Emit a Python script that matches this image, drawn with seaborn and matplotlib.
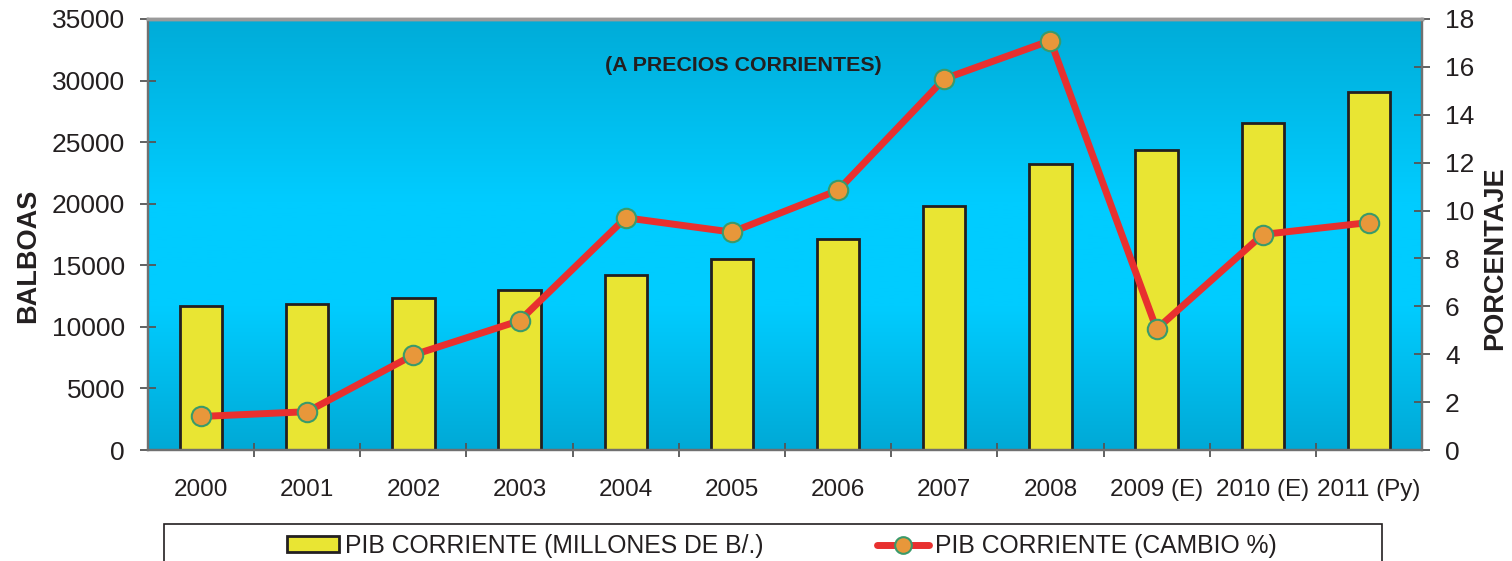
import numpy as np
import matplotlib
matplotlib.use("Agg")
import matplotlib.pyplot as plt
import seaborn as sns
from matplotlib.colors import LinearSegmentedColormap
from matplotlib.patches import Patch, Rectangle
from matplotlib.lines import Line2D

years = ["2000", "2001", "2002", "2003", "2004", "2005", "2006", "2007",
         "2008", "2009 (E)", "2010 (E)", "2011 (Py)"]
pib = [11700, 11850, 12340, 12990, 14200, 15500, 17130, 19800,
       23220, 24350, 26540, 29080]
cambio = [1.4, 1.6, 3.97, 5.4, 9.7, 9.1, 10.85, 15.5, 17.1, 5.05, 9.0, 9.5]

yellow = "#E9E533"
red = "#E8302F"
dark = "#231F20"

sns.set_theme(style="white")
plt.rcParams["font.family"] = ["Liberation Sans", "DejaVu Sans"]

fig = plt.figure(figsize=(15.12, 5.61), dpi=100)
ax = fig.add_axes([148 / 1512, 1 - 450 / 561, 1274 / 1512, 431 / 561])

# gradient background of the plot area
bg = LinearSegmentedColormap.from_list(
    "bg", [(0, "#00A9D6"), (0.33, "#00CCFF"), (0.58, "#00CCFF"), (1, "#00ACD8")])
ax.imshow(np.linspace(1, 0, 256).reshape(-1, 1), cmap=bg, aspect="auto",
          extent=[0, 1, 0, 1], transform=ax.transAxes, zorder=0)

sns.barplot(x=years, y=pib, ax=ax, color=yellow, saturation=1, width=0.4,
            edgecolor=dark, linewidth=2, zorder=2)
ax.set_xlim(-0.5, len(years) - 0.5)
ax.set_ylim(0, 35000)
ax.set_yticks(range(0, 35001, 5000))
ax.set_xticks(np.arange(len(years) - 1) + 0.5, minor=True)
ax.set_xlabel("")

ax2 = ax.twinx()
sns.lineplot(x=np.arange(len(years)), y=cambio, ax=ax2, color=red, lw=5,
             marker="o", markersize=14, markerfacecolor="#E8973A",
             markeredgecolor="#3A9A6A", markeredgewidth=1.5, zorder=3)
ax2.set_ylim(0, 18)
ax2.set_yticks(range(0, 19, 2))
ax2.set_xlim(-0.5, len(years) - 0.5)

ax.tick_params(axis="y", direction="inout", length=11, width=1.3, color="#555555",
               labelsize=19, labelcolor=dark, pad=11)
ax.tick_params(axis="x", which="major", length=0, labelsize=17.5, labelcolor=dark, pad=21)
ax.tick_params(axis="x", which="minor", direction="inout", length=10, width=1.3,
               color="#555555", bottom=True)
ax2.tick_params(axis="y", direction="inout", length=11, width=1.3, color="#555555",
                labelsize=19, labelcolor=dark, pad=11)

for a in (ax, ax2):
    for s in a.spines.values():
        s.set_color("#707070")
        s.set_linewidth(1.6)
    a.spines["top"].set_color("#9A9A9A")
    a.spines["top"].set_linewidth(2.5)

ax.set_ylabel("BALBOAS", fontsize=19.5, fontweight="bold", color=dark)
ax.yaxis.set_label_coords(-0.084, 0.45)
ax2.set_ylabel("PORCENTAJE", fontsize=19.5, fontweight="bold", color=dark)
ax2.yaxis.set_label_coords(1.047, 0.445)

ax.text(0.467, 0.893, "(A PRECIOS CORRIENTES)", transform=ax.transAxes,
        ha="center", va="center", fontsize=15.4, fontweight="bold", color=dark)

# legend box at the bottom (cut by the figure edge)
fig.patches.append(Rectangle((164 / 1512, -0.06), 1218 / 1512, 0.126,
                             transform=fig.transFigure, fill=False,
                             edgecolor=dark, linewidth=1.2))
handles = [
    Patch(facecolor=yellow, edgecolor=dark, linewidth=2),
    Line2D([0], [0], color=red, lw=5, marker="o", markersize=12,
           markerfacecolor="#E8973A", markeredgecolor="#3A9A6A", markeredgewidth=1.5),
]
fig.legend(handles, ["PIB CORRIENTE (MILLONES DE B/.)", "PIB CORRIENTE (CAMBIO %)"],
           loc="center", bbox_to_anchor=(0.517, 1 - 546 / 561), ncol=2,
           frameon=False, fontsize=17.8, handlelength=2.1, handleheight=0.6,
           handletextpad=0.25, columnspacing=4.6, labelcolor=dark)

fig.savefig("out.png", dpi=100)
